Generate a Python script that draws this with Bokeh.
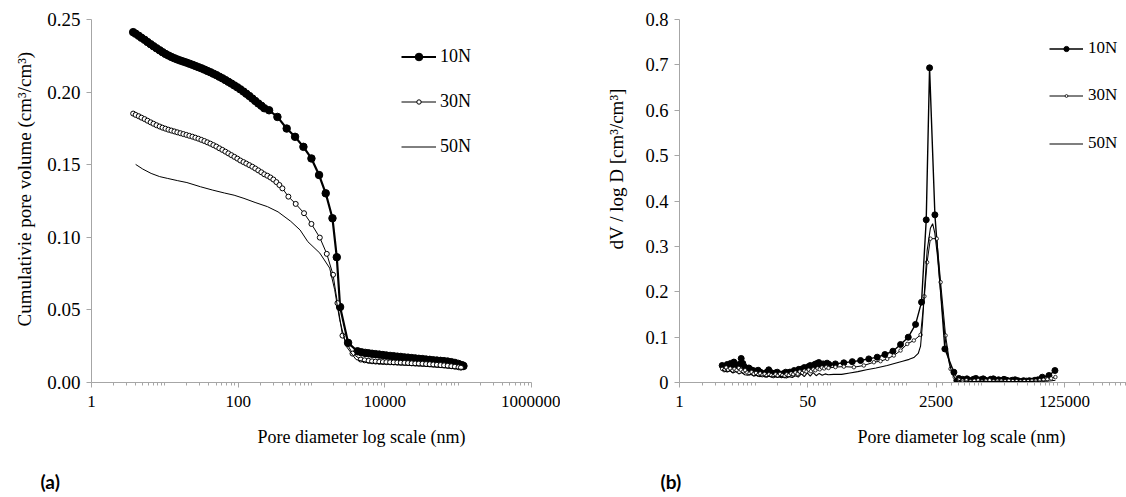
from bokeh.plotting import figure
from bokeh.layouts import row
from bokeh.models import (FixedTicker, PrintfTickFormatter, CustomJSTickFormatter, Title,
                          Legend, LegendItem, Range1d)
from bokeh.embed import file_html
from bokeh.resources import INLINE

SERIF = "Liberation Serif"

# ---------------- (a) cumulative pore volume ----------------
a10_d = [3.7, 4.0, 4.4, 4.8, 5.3, 5.8, 6.4, 7.0, 7.7, 8.5, 9.3, 10.2, 11.2, 12.3, 13.5, 14.8, 16.3, 17.9,
         19.7, 21.6, 23.8, 26.1, 28.7, 31.5, 34.6, 38.0, 41.8, 45.9, 50.4, 55.4, 60.9, 66.9, 73.5, 80.7,
         88.7, 97.4, 107, 118, 129, 142, 156, 171, 188, 207, 227, 264, 343, 459, 597, 776, 998, 1268,
         1563, 1932, 2212, 2455, 3155, 4239, 4800, 5400, 6000, 6700, 7500, 8400, 9400, 10500, 11800,
         13200, 14800, 16500, 18500, 20700, 23200, 26000, 29100, 32600, 36500, 40900, 45800, 51300,
         57400, 64300, 72000, 80600, 90300, 101000, 113000, 118000]
a10_v = [0.2413, 0.2402, 0.2388, 0.2374, 0.2360, 0.2345, 0.2330, 0.2316, 0.2302, 0.2288, 0.2275, 0.2263,
         0.2252, 0.2242, 0.2233, 0.2225, 0.2217, 0.2210, 0.2203, 0.2196, 0.2188, 0.2180, 0.2172, 0.2164,
         0.2155, 0.2146, 0.2137, 0.2127, 0.2117, 0.2106, 0.2095, 0.2083, 0.2071, 0.2059, 0.2046, 0.2033,
         0.2019, 0.2004, 0.1989, 0.1973, 0.1956, 0.1939, 0.1922, 0.1906, 0.1889, 0.1875, 0.1829, 0.1749,
         0.1692, 0.1623, 0.1543, 0.1429, 0.1303, 0.1131, 0.0863, 0.0520, 0.0273, 0.0215, 0.0208, 0.0204,
         0.0201, 0.0198, 0.0195, 0.0192, 0.0189, 0.0186, 0.0183, 0.0181, 0.0178, 0.0176, 0.0173, 0.0171,
         0.0168, 0.0166, 0.0163, 0.0161, 0.0158, 0.0156, 0.0153, 0.0151, 0.0149, 0.0147, 0.0144, 0.0140,
         0.0135, 0.0128, 0.0119, 0.0114]

a30_d = [3.7, 4.0, 4.4, 4.8, 5.3, 5.8, 6.4, 7.0, 7.7, 8.5, 9.3, 10.2, 11.2, 12.3, 13.5, 14.8, 16.3, 17.9,
         19.7, 21.6, 23.8, 26.1, 28.7, 31.5, 34.6, 38.0, 41.8, 45.9, 50.4, 55.4, 60.9, 66.9, 73.5, 80.7,
         88.7, 97.4, 107, 118, 129, 142, 156, 171, 188, 207, 227, 250, 275, 302, 332, 365, 401, 484, 609,
         791, 998, 1297, 1616, 1968, 2260, 2646, 3624, 4700, 5300, 6000, 6700, 7500, 8400, 9400, 10500,
         11800, 13200, 14800, 16500, 18500, 20700, 23200, 26000, 29100, 32600, 36500, 40900, 45800,
         51300, 57400, 64300, 72000, 80600, 90300, 101000, 109000]
a30_v = [0.1852, 0.1843, 0.1834, 0.1824, 0.1814, 0.1803, 0.1792, 0.1782, 0.1772, 0.1763, 0.1755, 0.1748,
         0.1741, 0.1735, 0.1729, 0.1723, 0.1717, 0.1711, 0.1705, 0.1699, 0.1693, 0.1686, 0.1679, 0.1671,
         0.1663, 0.1654, 0.1645, 0.1635, 0.1625, 0.1613, 0.1602, 0.1590, 0.1578, 0.1566, 0.1554, 0.1542,
         0.1529, 0.1518, 0.1508, 0.1497, 0.1486, 0.1474, 0.1461, 0.1448, 0.1434, 0.1424, 0.1412, 0.1398,
         0.1380, 0.1360, 0.1337, 0.1280, 0.1230, 0.1166, 0.1092, 0.0998, 0.0886, 0.0742, 0.0547, 0.0323,
         0.0199, 0.0158, 0.0153, 0.0149, 0.0146, 0.0144, 0.0142, 0.0141, 0.0140, 0.0139, 0.0138, 0.0137,
         0.0136, 0.0135, 0.0134, 0.0132, 0.0131, 0.0130, 0.0129, 0.0127, 0.0126, 0.0124, 0.0122, 0.0120,
         0.0118, 0.0115, 0.0112, 0.0109, 0.0105, 0.0102]

a50_d = [4.0, 5.0, 6.5, 8.5, 10.8, 15, 20, 30.7, 45, 65, 88, 120, 170, 251, 350, 521, 700, 890, 1300,
         1770, 2070, 2420, 2980, 4050, 6100, 12000, 34400, 70000, 121000]
a50_v = [0.1502, 0.1470, 0.1440, 0.1418, 0.1406, 0.1390, 0.1377, 0.1348, 0.1325, 0.1305, 0.1290, 0.1268,
         0.1240, 0.1211, 0.1175, 0.1110, 0.1050, 0.0970, 0.0891, 0.0788, 0.0639, 0.0433, 0.0249, 0.0158,
         0.0135, 0.0125, 0.0112, 0.0100, 0.0089]

a_xticks = [1, 100, 10000, 1000000]
a_yticks = [0.0, 0.05, 0.10, 0.15, 0.20, 0.25]

# ---------------- (b) dV / log D ----------------
b10_d = [3.67, 3.85, 4.05, 4.28, 4.5, 4.75, 5.0, 5.25, 5.55, 5.85, 6.2, 6.56, 6.9, 7.3, 7.8, 8.3, 8.9, 9.66,
         10.3, 11.0, 11.8, 12.6, 13.5, 14.4, 15.2, 16.2, 17.3, 18.5, 19.7, 21.0, 22.5, 24.0, 25.5, 27.0,
         29.0, 31.0, 33.0, 35.5, 38.0, 40.0, 42.0, 45.0, 48.0, 51.0, 54.0, 58.0, 62.0, 66.0, 70.0, 75.0,
         80.0, 85.0, 90.0, 95.0, 116, 150, 194, 250, 321, 415, 525, 670, 845, 1069, 1336, 1603, 1850,
         2048, 2410, 3266, 4300, 4700, 5000, 5300, 5600, 6000, 6400, 6800, 7300, 7800, 8400, 9000, 9700,
         10500, 11300, 12200, 13200, 14300, 15500, 16800, 18200, 19800, 21500, 23400, 25500, 27800,
         30300, 33000, 36000, 39300, 42900, 46800, 51000, 56000, 63700, 78000, 93600]
b10_v = [0.0375, 0.0340, 0.0310, 0.0397, 0.0350, 0.0420, 0.0390, 0.0450, 0.0380, 0.0340, 0.0400, 0.0530,
         0.0420, 0.0340, 0.0300, 0.0320, 0.0280, 0.0260, 0.0240, 0.0270, 0.0227, 0.0200, 0.0190, 0.0230,
         0.0280, 0.0220, 0.0180, 0.0210, 0.0227, 0.0190, 0.0170, 0.0200, 0.0227, 0.0190, 0.0230, 0.0210,
         0.0264, 0.0240, 0.0290, 0.0270, 0.0300, 0.0330, 0.0310, 0.0350, 0.0375, 0.0340, 0.0400, 0.0420,
         0.0440, 0.0390, 0.0410, 0.0380, 0.0426, 0.0400, 0.0410, 0.0434, 0.0460, 0.0485, 0.0520, 0.0558,
         0.0617, 0.0690, 0.0837, 0.0998, 0.1280, 0.1770, 0.3585, 0.6935, 0.3695, 0.0740, 0.0227, 0.0044,
         0.0090, 0.0040, 0.0070, 0.0030, 0.0080, 0.0050, 0.0030, 0.0070, 0.0090, 0.0040, 0.0060, 0.0080,
         0.0050, 0.0030, 0.0070, 0.0080, 0.0050, 0.0060, 0.0040, 0.0070, 0.0050, 0.0030, 0.0050, 0.0060,
         0.0040, 0.0020, 0.0040, 0.0030, 0.0040, 0.0030, 0.0050, 0.0060, 0.0117, 0.0154, 0.0264]

b30_d = [3.67, 3.9, 4.15, 4.4, 4.7, 5.0, 5.35, 5.7, 6.1, 6.5, 6.95, 7.4, 7.9, 8.45, 9.0, 9.6, 10.3, 11.0,
         11.7, 12.5, 13.4, 14.3, 15.3, 16.4, 17.5, 18.7, 20.0, 21.4, 22.9, 24.5, 26.2, 28.0, 30.0, 32.0,
         34.3, 36.7, 39.2, 42.0, 45.0, 48.0, 51.5, 55.0, 59.0, 63.0, 67.5, 72.0, 77.0, 82.5, 88.0, 94.0,
         116, 150, 204, 276, 375, 459, 563, 689, 845, 1038, 1268, 1556, 1750, 1900, 2100, 2550, 2870,
         3336, 3884, 4400, 5000, 5600, 6300, 7100, 8000, 9000, 10100, 11400, 12800, 14400, 16200, 18200,
         20500, 23000, 25900, 29100, 32700, 36800, 41400, 46500, 52300, 58800, 66100, 74300, 83500, 95000]
b30_v = [0.030, 0.027, 0.033, 0.028, 0.031, 0.026, 0.030, 0.027, 0.032, 0.028, 0.024, 0.027, 0.022, 0.020,
         0.023, 0.019, 0.021, 0.017, 0.020, 0.016, 0.019, 0.015, 0.018, 0.016, 0.014, 0.018, 0.015, 0.019,
         0.016, 0.014, 0.018, 0.016, 0.020, 0.018, 0.022, 0.019, 0.024, 0.021, 0.026, 0.024, 0.028, 0.025,
         0.029, 0.027, 0.031, 0.029, 0.033, 0.031, 0.034, 0.032, 0.034, 0.035, 0.0337, 0.0375, 0.0447,
         0.047, 0.052, 0.0595, 0.0705, 0.085, 0.0926, 0.105, 0.190, 0.265, 0.317, 0.317, 0.221, 0.1036,
         0.030, 0.012, 0.006, 0.004, 0.005, 0.003, 0.004, 0.005, 0.003, 0.004, 0.005, 0.003, 0.004, 0.004,
         0.003, 0.004, 0.003, 0.003, 0.002, 0.003, 0.003, 0.004, 0.004, 0.005, 0.006, 0.007, 0.009, 0.012]

b50_d = [3.67, 3.95, 4.3, 4.7, 5.1, 5.6, 6.1, 6.7, 7.3, 8.0, 8.8, 9.6, 10.5, 11.5, 12.6, 13.8, 15.1, 16.5,
         18.1, 19.8, 21.7, 23.8, 26.0, 28.5, 31.2, 34.2, 37.4, 41.0, 44.9, 49.2, 53.9, 59.0, 64.6, 70.8,
         77.5, 85.0, 93.0, 110, 140, 180, 230, 300, 400, 563, 700, 900, 1100, 1268, 1450, 1556, 1650, 1750,
         1900, 2100, 2250, 2400, 2600, 2870, 3100, 3336, 3700, 4100, 4600, 5200, 6500, 8000, 10000, 13000,
         17000, 22000, 30000, 40000, 55000, 70000, 85000, 95000]
b50_v = [0.028, 0.025, 0.023, 0.026, 0.021, 0.024, 0.019, 0.022, 0.017, 0.016, 0.018, 0.014, 0.016, 0.013,
         0.015, 0.012, 0.014, 0.012, 0.013, 0.011, 0.014, 0.012, 0.010, 0.013, 0.011, 0.015, 0.012, 0.019,
         0.013, 0.021, 0.014, 0.022, 0.015, 0.020, 0.016, 0.019, 0.017, 0.018, 0.018, 0.021, 0.024, 0.028,
         0.032, 0.0375, 0.042, 0.047, 0.051, 0.055, 0.064, 0.080, 0.130, 0.200, 0.290, 0.340, 0.350, 0.330,
         0.280, 0.200, 0.140, 0.090, 0.045, 0.018, 0.007, 0.004, 0.003, 0.002, 0.003, 0.002, 0.003, 0.002,
         0.002, 0.002, 0.003, 0.003, 0.004, 0.005]

b_xticks = [1, 50, 2500, 125000]
b_yticks = [0.0, 0.1, 0.2, 0.3, 0.4, 0.5, 0.6, 0.7, 0.8]

series_names = ["10N", "30N", "50N"]
x_title = "Pore diameter log scale (nm)"
a_y_title = "Cumulativie pore volume (cm\u00b3/cm\u00b3)"
b_y_title = "dV / log D [cm\u00b3/cm\u00b3]"

AXIS_GREY = "#a6a6a6"


def decade_minors(majors, top):
    out = []
    k = 0
    while 10 ** k <= top:
        for m in range(1, 10):
            v = m * 10 ** k
            if v <= top and v not in majors and v != 1:
                out.append(v)
        k += 1
    return out


def style(p, xticks, xtop, yticks, yfmt, ysize, xsize):
    p.xgrid.visible = False
    p.ygrid.visible = False
    p.outline_line_color = None
    p.background_fill_color = "white"
    p.border_fill_color = "white"
    xa, ya = p.xaxis[0], p.yaxis[0]
    xa.ticker = FixedTicker(ticks=xticks, minor_ticks=decade_minors(xticks, xtop))
    xa.formatter = PrintfTickFormatter(format="%d")
    ya.ticker = FixedTicker(ticks=yticks, minor_ticks=[])
    ya.formatter = yfmt
    for ax in (xa, ya):
        ax.axis_line_color = AXIS_GREY
        ax.major_tick_line_color = AXIS_GREY
        ax.minor_tick_line_color = AXIS_GREY
        ax.major_tick_in = 0
        ax.major_tick_out = 5
        ax.minor_tick_in = 0
        ax.minor_tick_out = 3
        ax.major_label_text_font = SERIF
        ax.major_label_text_color = "black"
    xa.major_label_text_font_size = xsize
    ya.major_label_text_font_size = ysize
    xa.major_label_standoff = 8
    ya.major_label_standoff = 6


def add_title(p, text, side, size, offset, standoff, valign, font=SERIF, bold=False):
    p.add_layout(Title(text=text, align="left", offset=offset, standoff=standoff,
                       vertical_align=valign, text_font=font, text_font_size=size,
                       text_font_style="bold" if bold else "normal", text_color="black"), side)


def add_legend(p, label, renderers, vx, vy, gw, gh, size, standoff):
    leg = Legend(items=[LegendItem(label=label, renderers=renderers)], location=(vx, vy),
                 glyph_width=gw, glyph_height=gh, label_height=gh, label_standoff=standoff,
                 padding=0, margin=0, spacing=0, border_line_color=None, background_fill_alpha=0,
                 label_text_font=SERIF, label_text_font_size=size, label_text_color="black")
    p.add_layout(leg)


# ---------- figure (a) ----------
pa = figure(width=560, height=497, x_axis_type="log", x_range=Range1d(1, 1000000),
            y_range=Range1d(0, 0.25), output_backend="svg", toolbar_location=None,
            min_border_left=91, min_border_right=29, min_border_top=19, min_border_bottom=114)
style(pa, a_xticks, 1000000, a_yticks, PrintfTickFormatter(format="%.2f"), "19px", "17px")

la10 = pa.line(a10_d, a10_v, line_color="black", line_width=2.2)
sa10 = pa.scatter(a10_d, a10_v, size=7.5, marker="circle", fill_color="black", line_color="black")
la30 = pa.line(a30_d, a30_v, line_color="black", line_width=1)
sa30 = pa.scatter(a30_d, a30_v, size=5, marker="circle", fill_color="white", line_color="black",
                  line_width=1)
la50 = pa.line(a50_d, a50_v, line_color="black", line_width=1)

add_legend(pa, series_names[0], [la10, sa10], 310, 315.5, 35, 19, "18px", 4)
add_legend(pa, series_names[1], [la30, sa30], 310, 270.5, 35, 11, "18px", 4)
add_legend(pa, series_names[2], [la50], 310, 225.5, 35, 19, "18px", 4)

add_title(pa, a_y_title, "left", "19px", 56, 20, "bottom")
add_title(pa, x_title, "below", "18px", 166, 34, "top")
add_title(pa, "(a)", "below", "19px", -51, 4, "bottom", font="Lato", bold=True)

# ---------- figure (b) ----------
pb = figure(width=566, height=497, x_axis_type="log", x_range=Range1d(1, 830000),
            y_range=Range1d(0, 0.8), output_backend="svg", toolbar_location=None,
            min_border_left=119, min_border_right=0, min_border_top=19, min_border_bottom=115)
style(pb, b_xticks, 830000, b_yticks,
      CustomJSTickFormatter(code="return tick == 0 ? '0' : tick.toFixed(1);"), "18.5px", "17px")

lb10 = pb.line(b10_d, b10_v, line_color="black", line_width=1.4)
sb10 = pb.scatter(b10_d, b10_v, size=6, marker="circle", fill_color="black", line_color="black")
lb30 = pb.line(b30_d, b30_v, line_color="black", line_width=1)
sb30 = pb.scatter(b30_d, b30_v, size=3.5, marker="circle", fill_color="white", line_color="black",
                  line_width=0.8)
lb50 = pb.line(b50_d, b50_v, line_color="black", line_width=1.1)

add_legend(pb, series_names[0], [lb10, sb10], 370, 324, 34, 13, "17px", 5)
add_legend(pb, series_names[1], [lb30, sb30], 370, 277, 34, 7, "17px", 5)
add_legend(pb, series_names[2], [lb50], 370, 229, 34, 13, "17px", 5)

add_title(pb, b_y_title, "left", "19px", 133, 32, "bottom")
add_title(pb, x_title, "below", "18px", 178, 34, "top")
add_title(pb, "(b)", "below", "19px", -19, 4, "bottom", font="Lato", bold=True)

layout = row(pa, pb)
open("out.html", "w").write(file_html(layout, INLINE))
